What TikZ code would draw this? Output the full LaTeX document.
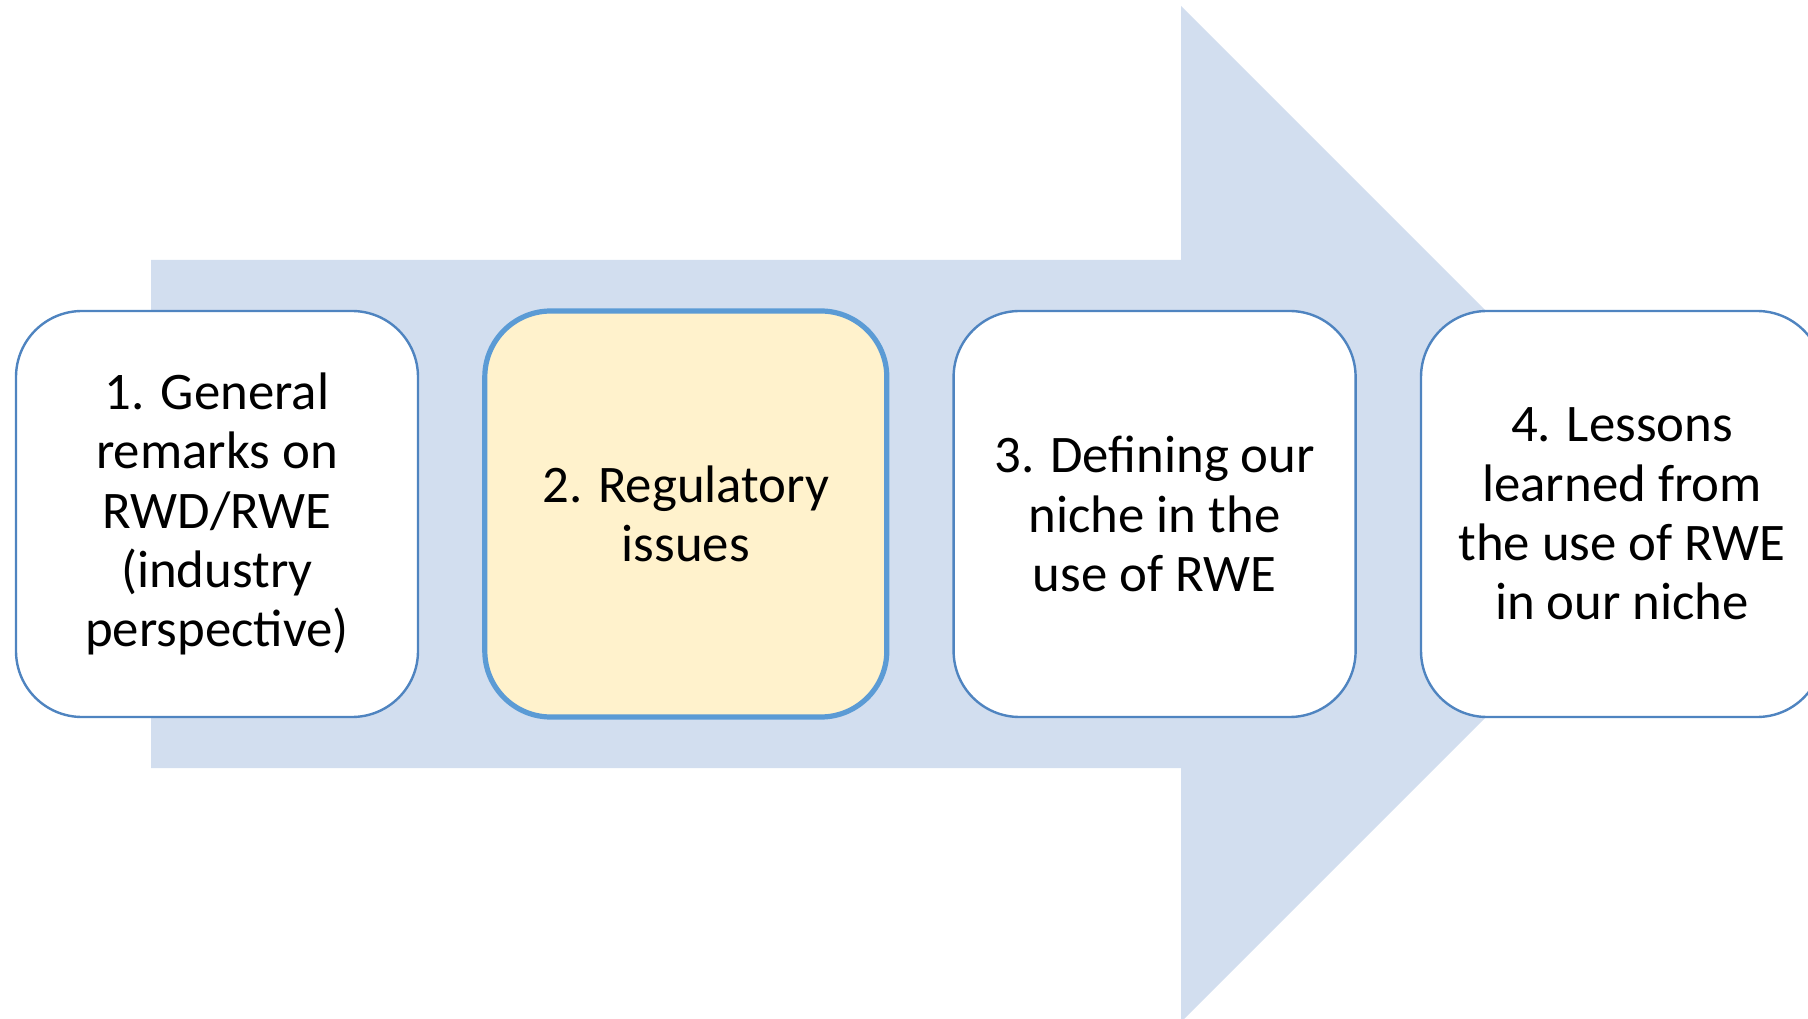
\documentclass[tikz,border=0pt]{standalone}
\usepackage{fontspec}
\setmainfont{Carlito}
\usetikzlibrary{positioning}

\definecolor{arrowfill}{HTML}{D2DEEF}
\definecolor{boxline}{HTML}{4F84C0}
\definecolor{boxhl}{HTML}{5B9BD5}
\definecolor{boxfill}{HTML}{FFF2CC}

\begin{document}
\begin{tikzpicture}[
  x=0.5pt, y=0.5pt,
  node distance=31.5pt,
  stage/.style={rectangle, rounded corners=33pt, draw=boxline, fill=white, line width=1.2pt, minimum width=201pt, minimum height=203pt, align=center, inner sep=0pt, font=\fontsize{26.4}{29.7}\selectfont},
  stagehl/.style={stage, draw=boxhl, fill=boxfill, line width=2.6pt},
]
  \useasboundingbox (0,0) rectangle (1808,1018);
  % big arrow behind the boxes
  \fill[arrowfill] (151,758) -- (1181,758) -- (1181,1012) -- (1689,504) -- (1181,-4) -- (1181,250) -- (151,250) -- cycle;

  \node[stage] (s1) at (217,504) {1. General\\remarks on\\RWD/RWE\\(industry\\perspective)};
  \node[stagehl, right=of s1] (s2) {2. Regulatory\\issues};
  \node[stage, right=of s2] (s3) {3. Defining our\\niche in the\\use of RWE};
  \node[stage, right=of s3] (s4) {4. Lessons\\learned from\\the use of RWE\\in our niche};
\end{tikzpicture}
\end{document}
